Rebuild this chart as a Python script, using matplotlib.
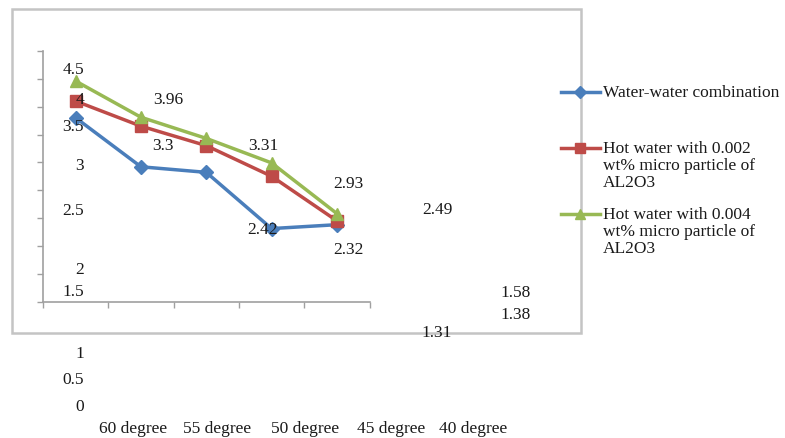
import matplotlib
matplotlib.use("Agg")
import matplotlib.pyplot as plt
from matplotlib.patches import Rectangle
import numpy as np

plt.rcParams['font.family'] = ['Liberation Serif', 'DejaVu Serif']

categories = ["60 degree", "55 degree", "50 degree", "45 degree", "40 degree"]
water = [3.3, 2.42, 2.32, 1.31, 1.38]
hot_002 = [3.6, 3.15, 2.8, 2.25, 1.45]
hot_004 = [3.96, 3.31, 2.93, 2.49, 1.58]
series_names = ["Water-water combination",
                "Hot water with 0.002\nwt% micro particle of\nAL2O3",
                "Hot water with 0.004\nwt% micro particle of\nAL2O3"]
y_tick_labels = ["4.5", "4", "3.5", "3", "2.5", "2", "1.5", "1", "0.5", "0"]
stray_labels = ["3.96", "3.3", "3.31", "2.93", "2.42", "2.32", "2.49", "1.58", "1.38", "1.31"]

colors = ["#4a7ebb", "#be4b48", "#98b954"]
markers = ["D", "s", "^"]

W, H = 785, 439
fig = plt.figure(figsize=(W / 100, H / 100), dpi=100)

# overlay in pixel coords for the frame and the loose text
ov = fig.add_axes([0, 0, 1, 1], zorder=0)
ov.set_xlim(0, W)
ov.set_ylim(H, 0)
ov.axis("off")
ov.add_patch(Rectangle((12, 10), 569, 324, fill=False, edgecolor="#c4c4c4", lw=1.8))

# plot area
x0, x1, ytop, ybot = 43, 369.5, 52, 302.5
ax = fig.add_axes([x0 / W, (H - ybot) / H, (x1 - x0) / W, (ybot - ytop) / H], zorder=1)
ax.patch.set_alpha(0)
x = np.arange(len(categories))
for vals, c, m in zip([water, hot_002, hot_004], colors, markers):
    ms = 7 if m == "D" else 8
    ax.plot(x, vals, color=c, lw=2.5, marker=m, ms=ms, mec=c, mfc=c)
ax.set_xlim(-0.5, 4.5)
ax.set_ylim(0, 4.5)
ax.set_xticks(np.arange(-0.5, 5, 1))
ax.set_yticks(np.arange(0, 5, 0.5))
ax.set_xticklabels([])
ax.set_yticklabels([])
ax.tick_params(length=4, width=1, color="#a0a0a0", direction="out")
for s in ["top", "right"]:
    ax.spines[s].set_visible(False)
for s in ["left", "bottom"]:
    ax.spines[s].set_color("#a0a0a0")
    ax.spines[s].set_linewidth(1.2)

# overlay text layer above the lines
tx = fig.add_axes([0, 0, 1, 1], zorder=2)
tx.set_xlim(0, W)
tx.set_ylim(H, 0)
tx.axis("off")
tcol = "#1a1a1a"
fs = 12.5

y_lab_pos = [70, 100, 127, 166, 211, 270, 292, 354, 380, 407]
for lab, yy in zip(y_tick_labels, y_lab_pos):
    tx.text(84, yy, lab, ha="right", va="center", fontsize=fs, color=tcol)

stray_pos = [(168, 100), (163, 146), (263, 146), (348, 184), (263, 230),
             (348, 250), (437, 210), (516, 293), (516, 315), (437, 333)]
for lab, (xx, yy) in zip(stray_labels, stray_pos):
    tx.text(xx, yy, lab, ha="center", va="center", fontsize=fs, color=tcol)

cat_x = [133, 217, 305, 391, 473]
for lab, xx in zip(categories, cat_x):
    tx.text(xx, 429, lab, ha="center", va="center", fontsize=fs, color=tcol)

# legend
leg_y = [93, 149, 215]
for name, c, m, yy in zip(series_names, colors, markers, leg_y):
    ms = 6 if m == "D" else 7
    tx.plot([561, 600], [yy, yy], color=c, lw=2.5)
    tx.plot([580], [yy], marker=m, color=c, ms=ms)
    tx.text(603, yy - 8, name, ha="left", va="top", fontsize=fs, color=tcol,
            linespacing=1.08)

fig.savefig("out.png", dpi=100)
